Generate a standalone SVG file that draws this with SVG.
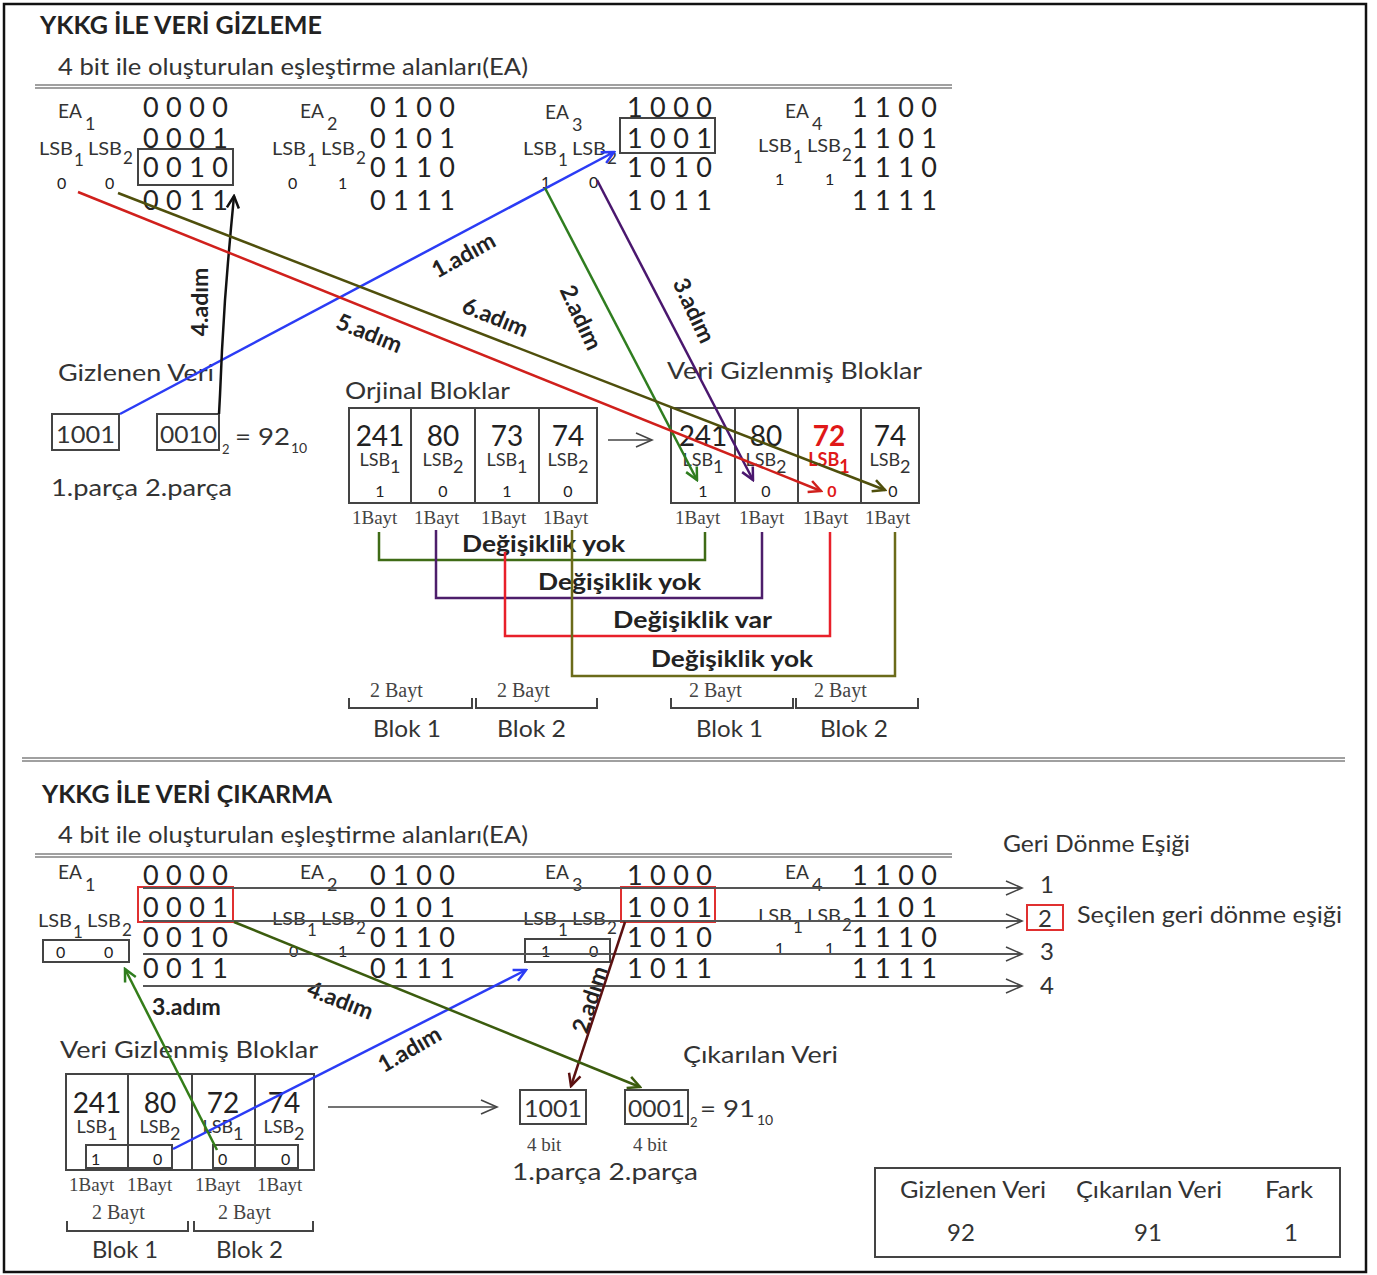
<svg xmlns="http://www.w3.org/2000/svg" width="1377" height="1275" viewBox="0 0 1377 1275">
<style>
text{font-family:Lato,'Open Sans','DejaVu Sans',sans-serif;fill:#333}
.h{font-size:24px;font-weight:bold;fill:#222}
.sub{font-size:24px}
.ea{font-size:20px}
.eas{font-size:18px}
.bits{font-size:27px;fill:#222}
.lsb{font-size:18px}
.lsbs{font-size:17px}
.tl{font-size:18px}
.v{font-size:16px;fill:#222}
.lbl{font-size:24px}
.step{font-size:23px;font-weight:bold;fill:#222}
.num{font-size:28px;fill:#222}
.c{text-anchor:middle}
.ser{font-family:'Liberation Serif','Times New Roman',serif;fill:#444}
.by{font-size:19px}
.bx{fill:none;stroke:#444;stroke-width:2}
.rb{fill:none;stroke:#e03030;stroke-width:2}
.gl{stroke:#808080;stroke-width:1.5}
.red{fill:#e01818;font-weight:bold}
.ln{fill:none;stroke-width:2.5}
</style>
<defs>
<marker id="mBlue" viewBox="0 0 16 16" refX="14" refY="8" markerWidth="16" markerHeight="16" markerUnits="userSpaceOnUse" orient="auto"><path d="M2,2 L14,8 L2,14" fill="none" stroke="#2b3cf5" stroke-width="2.5"/></marker>
<marker id="mRed" viewBox="0 0 16 16" refX="14" refY="8" markerWidth="16" markerHeight="16" markerUnits="userSpaceOnUse" orient="auto"><path d="M2,2 L14,8 L2,14" fill="none" stroke="#d0201c" stroke-width="2.5"/></marker>
<marker id="mOlive" viewBox="0 0 16 16" refX="14" refY="8" markerWidth="16" markerHeight="16" markerUnits="userSpaceOnUse" orient="auto"><path d="M2,2 L14,8 L2,14" fill="none" stroke="#4f4f0c" stroke-width="2.5"/></marker>
<marker id="mGreen" viewBox="0 0 16 16" refX="14" refY="8" markerWidth="16" markerHeight="16" markerUnits="userSpaceOnUse" orient="auto"><path d="M2,2 L14,8 L2,14" fill="none" stroke="#2f7d1f" stroke-width="2.5"/></marker>
<marker id="mPurple" viewBox="0 0 16 16" refX="14" refY="8" markerWidth="16" markerHeight="16" markerUnits="userSpaceOnUse" orient="auto"><path d="M2,2 L14,8 L2,14" fill="none" stroke="#4a176e" stroke-width="2.5"/></marker>
<marker id="mBlack" viewBox="0 0 16 16" refX="14" refY="8" markerWidth="16" markerHeight="16" markerUnits="userSpaceOnUse" orient="auto"><path d="M2,2 L14,8 L2,14" fill="none" stroke="#111" stroke-width="2.5"/></marker>
<marker id="mMaroon" viewBox="0 0 16 16" refX="14" refY="8" markerWidth="16" markerHeight="16" markerUnits="userSpaceOnUse" orient="auto"><path d="M2,2 L14,8 L2,14" fill="none" stroke="#5b1010" stroke-width="2.5"/></marker>
<marker id="mDk" viewBox="0 0 16 16" refX="14" refY="8" markerWidth="16" markerHeight="16" markerUnits="userSpaceOnUse" orient="auto"><path d="M2,2 L14,8 L2,14" fill="none" stroke="#3b5c0e" stroke-width="2.5"/></marker>
<marker id="mOpen" viewBox="0 0 20 20" refX="18" refY="10" markerWidth="20" markerHeight="20" markerUnits="userSpaceOnUse" orient="auto"><path d="M2,3 L18,10 L2,17" fill="none" stroke="#444" stroke-width="1.6"/></marker>
</defs>

<rect x="4" y="4" width="1362" height="1268" fill="#fff" stroke="#111" stroke-width="2.5"/>

<!-- ===== TOP SECTION ===== -->
<g id="top-header">
<text x="40" y="34" class="h" textLength="282" lengthAdjust="spacingAndGlyphs">YKKG İLE VERİ GİZLEME</text>
<text x="58" y="75" class="sub" textLength="470" lengthAdjust="spacingAndGlyphs">4 bit ile oluşturulan eşleştirme alanları(EA)</text>
<line x1="35" y1="85" x2="952" y2="85" class="gl"/>
<line x1="35" y1="88" x2="952" y2="88" class="gl"/>
</g>

<g id="top-ea1">
<text x="58" y="118" class="ea" textLength="24" lengthAdjust="spacingAndGlyphs">EA</text><text x="85" y="130" class="eas">1</text>
<text x="143" y="117" class="bits" textLength="85">0000</text>
<text x="143" y="148" class="bits" textLength="85">0001</text>
<text x="143" y="177" class="bits" textLength="85">0010</text>
<text x="143" y="210" class="bits" textLength="85">0011</text>
<rect x="138" y="149" width="95" height="36" class="bx"/>
<text x="39" y="155" class="lsb" textLength="34" lengthAdjust="spacingAndGlyphs">LSB</text><text x="74" y="166" class="lsbs">1</text>
<text x="88" y="155" class="lsb" textLength="34" lengthAdjust="spacingAndGlyphs">LSB</text><text x="123" y="164" class="lsbs">2</text>
<text x="57" y="189" class="v">0</text><text x="105" y="189" class="v">0</text>
</g>

<g id="top-ea2">
<text x="300" y="118" class="ea" textLength="24" lengthAdjust="spacingAndGlyphs">EA</text><text x="327" y="130" class="eas">2</text>
<text x="370" y="117" class="bits" textLength="85">0100</text>
<text x="370" y="148" class="bits" textLength="85">0101</text>
<text x="370" y="177" class="bits" textLength="85">0110</text>
<text x="370" y="210" class="bits" textLength="85">0111</text>
<text x="272" y="155" class="lsb" textLength="34" lengthAdjust="spacingAndGlyphs">LSB</text><text x="307" y="166" class="lsbs">1</text>
<text x="321" y="155" class="lsb" textLength="34" lengthAdjust="spacingAndGlyphs">LSB</text><text x="356" y="164" class="lsbs">2</text>
<text x="288" y="189" class="v">0</text><text x="338" y="189" class="v">1</text>
</g>

<g id="top-ea3">
<text x="545" y="119" class="ea" textLength="24" lengthAdjust="spacingAndGlyphs">EA</text><text x="572" y="131" class="eas">3</text>
<text x="627" y="117" class="bits" textLength="85">1000</text>
<text x="627" y="148" class="bits" textLength="85">1001</text>
<text x="627" y="177" class="bits" textLength="85">1010</text>
<text x="627" y="210" class="bits" textLength="85">1011</text>
<rect x="620" y="118" width="95" height="35" class="bx"/>
<text x="523" y="155" class="lsb" textLength="34" lengthAdjust="spacingAndGlyphs">LSB</text><text x="558" y="166" class="lsbs">1</text>
<text x="572" y="155" class="lsb" textLength="34" lengthAdjust="spacingAndGlyphs">LSB</text><text x="607" y="164" class="lsbs">2</text>
<text x="541" y="188" class="v">1</text><text x="589" y="188" class="v">0</text>
</g>

<g id="top-ea4">
<text x="785" y="118" class="ea" textLength="24" lengthAdjust="spacingAndGlyphs">EA</text><text x="812" y="130" class="eas">4</text>
<text x="852" y="117" class="bits" textLength="85">1100</text>
<text x="852" y="148" class="bits" textLength="85">1101</text>
<text x="852" y="177" class="bits" textLength="85">1110</text>
<text x="852" y="210" class="bits" textLength="85">1111</text>
<text x="758" y="152" class="lsb" textLength="34" lengthAdjust="spacingAndGlyphs">LSB</text><text x="793" y="163" class="lsbs">1</text>
<text x="807" y="152" class="lsb" textLength="34" lengthAdjust="spacingAndGlyphs">LSB</text><text x="842" y="161" class="lsbs">2</text>
<text x="775" y="185" class="v">1</text><text x="825" y="185" class="v">1</text>
</g>

<g id="top-hidden-data">
<text x="58" y="381" class="lbl" textLength="156" lengthAdjust="spacingAndGlyphs">Gizlenen Veri</text>
<rect x="52" y="414" width="67" height="36" class="bx"/>
<text x="56" y="443" class="lbl" textLength="59" lengthAdjust="spacingAndGlyphs">1001</text>
<rect x="157" y="414" width="62" height="36" class="bx"/>
<text x="160" y="443" class="lbl" textLength="57" lengthAdjust="spacingAndGlyphs">0010</text>
<text x="222" y="454" font-size="13">2</text>
<text x="235" y="445" class="lbl" textLength="55" lengthAdjust="spacingAndGlyphs">= 92</text>
<text x="291" y="453" font-size="14">10</text>
<text x="51" y="496" class="lbl" textLength="181" lengthAdjust="spacingAndGlyphs">1.parça  2.parça</text>
</g>

<g id="top-original-blocks">
<text x="345" y="399" class="lbl" textLength="165" lengthAdjust="spacingAndGlyphs">Orjinal Bloklar</text>
<rect x="349" y="408" width="248" height="95" class="bx"/>
<line x1="411" y1="408" x2="411" y2="503" stroke="#444" stroke-width="2"/>
<line x1="475" y1="408" x2="475" y2="503" stroke="#444" stroke-width="2"/>
<line x1="539" y1="408" x2="539" y2="503" stroke="#444" stroke-width="2"/>
<text x="380" y="446" class="num c">241</text>
<text x="443" y="446" class="num c">80</text>
<text x="507" y="446" class="num c">73</text>
<text x="568" y="446" class="num c">74</text>
<text x="380" y="466" class="tl c">LSB<tspan dy="7" font-size="18">1</tspan></text>
<text x="443" y="466" class="tl c">LSB<tspan dy="7" font-size="18">2</tspan></text>
<text x="507" y="466" class="tl c">LSB<tspan dy="7" font-size="18">1</tspan></text>
<text x="568" y="466" class="tl c">LSB<tspan dy="7" font-size="18">2</tspan></text>
<text x="380" y="497" class="v c">1</text>
<text x="443" y="497" class="v c">0</text>
<text x="507" y="497" class="v c">1</text>
<text x="568" y="497" class="v c">0</text>
<text x="352" y="524" class="ser by">1Bayt</text>
<text x="414" y="524" class="ser by">1Bayt</text>
<text x="481" y="524" class="ser by">1Bayt</text>
<text x="543" y="524" class="ser by">1Bayt</text>
<text x="370" y="697" class="ser" font-size="20">2 Bayt</text>
<text x="497" y="697" class="ser" font-size="20">2 Bayt</text>
<path d="M349,698 V708 H472 V698 M476,698 V708 H597 V698" fill="none" stroke="#444" stroke-width="2"/>
<text x="373" y="737" class="lbl" textLength="68" lengthAdjust="spacingAndGlyphs">Blok 1</text>
<text x="497" y="737" class="lbl" textLength="69" lengthAdjust="spacingAndGlyphs">Blok 2</text>
</g>

<g id="top-hidden-blocks">
<text x="667" y="379" class="lbl" textLength="255" lengthAdjust="spacingAndGlyphs">Veri Gizlenmiş Bloklar</text>
<rect x="671" y="408" width="248" height="95" class="bx"/>
<line x1="735" y1="408" x2="735" y2="503" stroke="#444" stroke-width="2"/>
<line x1="798" y1="408" x2="798" y2="503" stroke="#444" stroke-width="2"/>
<line x1="861" y1="408" x2="861" y2="503" stroke="#444" stroke-width="2"/>
<text x="703" y="446" class="num c">241</text>
<text x="766" y="446" class="num c">80</text>
<text x="829" y="446" class="num c red">72</text>
<text x="890" y="446" class="num c">74</text>
<text x="703" y="466" class="tl c">LSB<tspan dy="7" font-size="18">1</tspan></text>
<text x="766" y="466" class="tl c">LSB<tspan dy="7" font-size="18">2</tspan></text>
<text x="829" y="466" class="tl c" style="fill:#e01818;font-weight:bold">LSB<tspan dy="7" font-size="18">1</tspan></text>
<text x="890" y="466" class="tl c">LSB<tspan dy="7" font-size="18">2</tspan></text>
<text x="703" y="497" class="v c">1</text>
<text x="766" y="497" class="v c">0</text>
<text x="832" y="497" class="v c red">0</text>
<text x="893" y="497" class="v c">0</text>
<text x="675" y="524" class="ser by">1Bayt</text>
<text x="739" y="524" class="ser by">1Bayt</text>
<text x="803" y="524" class="ser by">1Bayt</text>
<text x="865" y="524" class="ser by">1Bayt</text>
<text x="689" y="697" class="ser" font-size="20">2 Bayt</text>
<text x="814" y="697" class="ser" font-size="20">2 Bayt</text>
<path d="M671,698 V708 H793 V698 M796,698 V708 H918 V698" fill="none" stroke="#444" stroke-width="2"/>
<text x="696" y="737" class="lbl" textLength="67" lengthAdjust="spacingAndGlyphs">Blok 1</text>
<text x="820" y="737" class="lbl" textLength="68" lengthAdjust="spacingAndGlyphs">Blok 2</text>
</g>

<g id="top-change-labels">
<text x="462" y="552" class="step" textLength="163" lengthAdjust="spacingAndGlyphs">Değişiklik yok</text>
<text x="538" y="590" class="step" textLength="163" lengthAdjust="spacingAndGlyphs">Değişiklik yok</text>
<text x="613" y="628" class="step" textLength="159" lengthAdjust="spacingAndGlyphs">Değişiklik var</text>
<text x="651" y="667" class="step" textLength="162" lengthAdjust="spacingAndGlyphs">Değişiklik yok</text>
</g>

<g id="top-step-labels">
<text transform="translate(464,256) rotate(-29)" class="step c" y="7">1.adım</text>
<text transform="translate(580,318) rotate(65)" class="step c" y="7">2.adım</text>
<text transform="translate(693,311) rotate(65)" class="step c" y="7">3.adım</text>
<text transform="translate(201,302) rotate(-90)" class="step c" y="7">4.adım</text>
<text transform="translate(369,334) rotate(22)" class="step c" y="7">5.adım</text>
<text transform="translate(495,318) rotate(22)" class="step c" y="7">6.adım</text>
</g>

<!-- separator -->
<line x1="22" y1="758" x2="1345" y2="758" class="gl"/>
<line x1="22" y1="761" x2="1345" y2="761" class="gl"/>

<!-- ===== BOTTOM SECTION ===== -->
<g id="bottom-header">
<text x="42" y="803" class="h" textLength="290" lengthAdjust="spacingAndGlyphs">YKKG İLE VERİ ÇIKARMA</text>
<text x="58" y="843" class="sub" textLength="470" lengthAdjust="spacingAndGlyphs">4 bit ile oluşturulan eşleştirme alanları(EA)</text>
<line x1="35" y1="854" x2="952" y2="854" class="gl"/>
<line x1="35" y1="857" x2="952" y2="857" class="gl"/>
<text x="1003" y="852" class="lbl" textLength="187" lengthAdjust="spacingAndGlyphs">Geri Dönme Eşiği</text>
</g>

<g id="bottom-ea1">
<text x="58" y="879" class="ea" textLength="24" lengthAdjust="spacingAndGlyphs">EA</text><text x="85" y="891" class="eas">1</text>
<text x="143" y="885" class="bits" textLength="85">0000</text>
<text x="143" y="917" class="bits" textLength="85">0001</text>
<text x="143" y="947" class="bits" textLength="85">0010</text>
<text x="143" y="978" class="bits" textLength="85">0011</text>
<rect x="138" y="887" width="95" height="35" class="rb"/>
<text x="38" y="927" class="lsb" textLength="34" lengthAdjust="spacingAndGlyphs">LSB</text><text x="73" y="938" class="lsbs">1</text>
<text x="87" y="927" class="lsb" textLength="34" lengthAdjust="spacingAndGlyphs">LSB</text><text x="122" y="936" class="lsbs">2</text>
<rect x="43" y="940" width="86" height="22" class="bx"/>
<text x="56" y="958" class="v">0</text><text x="104" y="958" class="v">0</text>
</g>

<g id="bottom-ea2">
<text x="300" y="879" class="ea" textLength="24" lengthAdjust="spacingAndGlyphs">EA</text><text x="327" y="891" class="eas">2</text>
<text x="370" y="885" class="bits" textLength="85">0100</text>
<text x="370" y="917" class="bits" textLength="85">0101</text>
<text x="370" y="947" class="bits" textLength="85">0110</text>
<text x="370" y="978" class="bits" textLength="85">0111</text>
<text x="272" y="925" class="lsb" textLength="34" lengthAdjust="spacingAndGlyphs">LSB</text><text x="307" y="936" class="lsbs">1</text>
<text x="321" y="925" class="lsb" textLength="34" lengthAdjust="spacingAndGlyphs">LSB</text><text x="356" y="934" class="lsbs">2</text>
<text x="289" y="957" class="v">0</text><text x="338" y="957" class="v">1</text>
</g>

<g id="bottom-ea3">
<text x="545" y="879" class="ea" textLength="24" lengthAdjust="spacingAndGlyphs">EA</text><text x="572" y="891" class="eas">3</text>
<text x="627" y="885" class="bits" textLength="85">1000</text>
<text x="627" y="917" class="bits" textLength="85">1001</text>
<text x="627" y="947" class="bits" textLength="85">1010</text>
<text x="627" y="978" class="bits" textLength="85">1011</text>
<rect x="621" y="887" width="94" height="35" class="rb"/>
<text x="523" y="925" class="lsb" textLength="34" lengthAdjust="spacingAndGlyphs">LSB</text><text x="558" y="936" class="lsbs">1</text>
<text x="572" y="925" class="lsb" textLength="34" lengthAdjust="spacingAndGlyphs">LSB</text><text x="607" y="934" class="lsbs">2</text>
<rect x="525" y="939" width="85" height="23" class="bx"/>
<text x="541" y="957" class="v">1</text><text x="589" y="957" class="v">0</text>
</g>

<g id="bottom-ea4">
<text x="785" y="879" class="ea" textLength="24" lengthAdjust="spacingAndGlyphs">EA</text><text x="812" y="891" class="eas">4</text>
<text x="852" y="885" class="bits" textLength="85">1100</text>
<text x="852" y="917" class="bits" textLength="85">1101</text>
<text x="852" y="947" class="bits" textLength="85">1110</text>
<text x="852" y="978" class="bits" textLength="85">1111</text>
<text x="758" y="922" class="lsb" textLength="34" lengthAdjust="spacingAndGlyphs">LSB</text><text x="793" y="933" class="lsbs">1</text>
<text x="807" y="922" class="lsb" textLength="34" lengthAdjust="spacingAndGlyphs">LSB</text><text x="842" y="931" class="lsbs">2</text>
<text x="775" y="954" class="v">1</text><text x="825" y="954" class="v">1</text>
</g>

<g id="threshold">
<text x="1040" y="893" class="lbl">1</text>
<rect x="1027" y="905" width="36" height="25" class="rb"/>
<text x="1038" y="927" class="lbl">2</text>
<text x="1077" y="923" class="lbl" textLength="265" lengthAdjust="spacingAndGlyphs">Seçilen geri dönme eşiği</text>
<text x="1040" y="960" class="lbl">3</text>
<text x="1040" y="994" class="lbl">4</text>
</g>

<g id="bottom-hidden-blocks">
<text x="60" y="1058" class="lbl" textLength="258" lengthAdjust="spacingAndGlyphs">Veri Gizlenmiş Bloklar</text>
<rect x="66" y="1074" width="248" height="96" class="bx"/>
<line x1="128" y1="1074" x2="128" y2="1170" stroke="#444" stroke-width="2"/>
<line x1="192" y1="1074" x2="192" y2="1170" stroke="#444" stroke-width="2"/>
<line x1="255" y1="1074" x2="255" y2="1170" stroke="#444" stroke-width="2"/>
<text x="97" y="1113" class="num c">241</text>
<text x="160" y="1113" class="num c">80</text>
<text x="223" y="1113" class="num c">72</text>
<text x="284" y="1113" class="num c">74</text>
<text x="97" y="1133" class="tl c">LSB<tspan dy="7" font-size="18">1</tspan></text>
<text x="160" y="1133" class="tl c">LSB<tspan dy="7" font-size="18">2</tspan></text>
<text x="223" y="1133" class="tl c">LSB<tspan dy="7" font-size="18">1</tspan></text>
<text x="284" y="1133" class="tl c">LSB<tspan dy="7" font-size="18">2</tspan></text>
<rect x="86" y="1145" width="86" height="23" class="bx"/>
<rect x="213" y="1145" width="85" height="23" class="bx"/>
<text x="91" y="1165" class="v">1</text><text x="153" y="1165" class="v">0</text>
<text x="218" y="1165" class="v">0</text><text x="281" y="1165" class="v">0</text>
<text x="69" y="1191" class="ser by">1Bayt</text>
<text x="127" y="1191" class="ser by">1Bayt</text>
<text x="195" y="1191" class="ser by">1Bayt</text>
<text x="257" y="1191" class="ser by">1Bayt</text>
<text x="92" y="1219" class="ser" font-size="20">2 Bayt</text>
<text x="218" y="1219" class="ser" font-size="20">2 Bayt</text>
<path d="M67,1221 V1231 H188 V1221 M194,1221 V1231 H313 V1221" fill="none" stroke="#444" stroke-width="2"/>
<text x="92" y="1258" class="lbl" textLength="66" lengthAdjust="spacingAndGlyphs">Blok 1</text>
<text x="216" y="1258" class="lbl" textLength="67" lengthAdjust="spacingAndGlyphs">Blok 2</text>
</g>

<g id="extracted-data">
<text x="683" y="1063" class="lbl" textLength="155" lengthAdjust="spacingAndGlyphs">Çıkarılan Veri</text>
<rect x="520" y="1090" width="66" height="34" class="bx"/>
<text x="524" y="1117" class="lbl" textLength="58" lengthAdjust="spacingAndGlyphs">1001</text>
<rect x="625" y="1090" width="63" height="34" class="bx"/>
<text x="628" y="1117" class="lbl" textLength="57" lengthAdjust="spacingAndGlyphs">0001</text>
<text x="690" y="1127" font-size="13">2</text>
<text x="700" y="1117" class="lbl" textLength="55" lengthAdjust="spacingAndGlyphs">= 91</text>
<text x="757" y="1125" font-size="14">10</text>
<text x="527" y="1151" class="ser" font-size="19">4 bit</text>
<text x="633" y="1151" class="ser" font-size="19">4 bit</text>
<text x="512" y="1180" class="lbl" textLength="186" lengthAdjust="spacingAndGlyphs">1.parça  2.parça</text>
</g>

<g id="result-table">
<rect x="875" y="1168" width="465" height="89" class="bx"/>
<text x="900" y="1198" class="lbl" textLength="146" lengthAdjust="spacingAndGlyphs">Gizlenen Veri</text>
<text x="1076" y="1198" class="lbl" textLength="146" lengthAdjust="spacingAndGlyphs">Çıkarılan Veri</text>
<text x="1265" y="1198" class="lbl" textLength="48" lengthAdjust="spacingAndGlyphs">Fark</text>
<text x="961" y="1241" class="lbl c">92</text>
<text x="1148" y="1241" class="lbl c">91</text>
<text x="1291" y="1241" class="lbl c">1</text>
</g>

<g id="bottom-step-labels">
<text transform="translate(410,1050) rotate(-30)" class="step c" y="7">1.adım</text>
<text transform="translate(591,1000) rotate(-72)" class="step c" y="7">2.adım</text>
<text x="152" y="1015" class="step">3.adım</text>
<text transform="translate(340,1001) rotate(21)" class="step c" y="7">4.adım</text>
</g>

<!-- ===== CONNECTORS ===== -->
<g id="connectors">
<line x1="608" y1="440" x2="652" y2="440" stroke="#444" stroke-width="1.6" marker-end="url(#mOpen)"/>
<line x1="120" y1="414" x2="614" y2="152" class="ln" stroke="#2b3cf5" marker-end="url(#mBlue)"/>
<line x1="545" y1="188" x2="697" y2="480" class="ln" stroke="#2f7d1f" marker-end="url(#mGreen)"/>
<line x1="597" y1="180" x2="753" y2="480" class="ln" stroke="#4a176e" marker-end="url(#mPurple)"/>
<polyline points="219,414 220,395 222,350 225,300 228,262 231,228 234,196" class="ln" stroke="#111" marker-end="url(#mBlack)"/>
<line x1="78" y1="192" x2="821" y2="491" class="ln" stroke="#d0201c" marker-end="url(#mRed)"/>
<line x1="118" y1="193" x2="885" y2="490" class="ln" stroke="#4f4f0c" marker-end="url(#mOlive)"/>
<path d="M379,532 V560 H705 V532" class="ln" stroke="#3f6b16"/>
<path d="M436,530 V598 H762 V532" class="ln" stroke="#4d1e6b"/>
<path d="M505,552 V636 H830 V532" class="ln" stroke="#e8202a" stroke-width="2"/>
<path d="M572,530 V676 H895 V532" class="ln" stroke="#6b6b1a"/>
<line x1="143" y1="888" x2="1022" y2="888" stroke="#555" stroke-width="2" marker-end="url(#mOpen)"/>
<line x1="143" y1="921" x2="1022" y2="921" stroke="#555" stroke-width="2" marker-end="url(#mOpen)"/>
<line x1="143" y1="954" x2="1022" y2="954" stroke="#555" stroke-width="2" marker-end="url(#mOpen)"/>
<line x1="143" y1="986" x2="1022" y2="986" stroke="#555" stroke-width="2" marker-end="url(#mOpen)"/>
<line x1="328" y1="1107" x2="497" y2="1107" stroke="#444" stroke-width="1.6" marker-end="url(#mOpen)"/>
<line x1="173" y1="1149" x2="526" y2="970" class="ln" stroke="#2b3cf5" marker-end="url(#mBlue)"/>
<line x1="625" y1="922" x2="571" y2="1086" class="ln" stroke="#5b1010" marker-end="url(#mMaroon)"/>
<line x1="217" y1="1150" x2="125" y2="969" class="ln" stroke="#347d19" marker-end="url(#mGreen)"/>
<line x1="234" y1="922" x2="640" y2="1087" class="ln" stroke="#3b5c0e" marker-end="url(#mDk)"/>
</g>
</svg>
